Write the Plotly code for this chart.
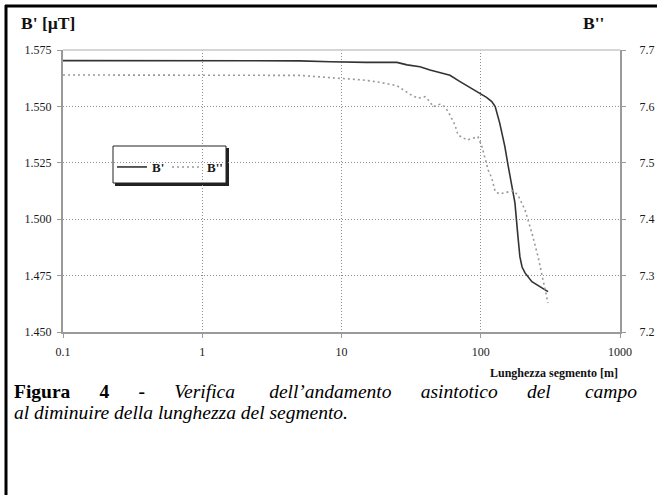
import plotly.graph_objects as go

# segment length [m]
len_b1 = [0.1, 0.2, 0.5, 1, 2, 5, 8.3, 10, 15, 20, 25, 29.6, 36.6, 43.2, 51, 55.4,
          60.1, 71, 86.5, 98.8, 110, 120, 127, 137, 149, 157, 162, 176, 185, 191,
          198, 208, 233, 266, 304]
b1 = [1.5703, 1.5703, 1.5703, 1.5703, 1.5703, 1.5702, 1.5698, 1.5696, 1.5695,
      1.5695, 1.5695, 1.5684, 1.5676, 1.5661, 1.5651, 1.5644, 1.5638, 1.5610,
      1.5580, 1.5560, 1.5540, 1.5521, 1.5499, 1.5425, 1.5322, 1.5240, 1.5189,
      1.5072, 1.4923, 1.4834, 1.4788, 1.4762, 1.4723, 1.4701, 1.4679]

len_b2 = [0.1, 0.2, 0.5, 1, 2, 5, 8.3, 10.2, 14.3, 18.9, 25, 31, 35.4, 39.8, 43.2,
          45.4, 51, 55.4, 60.1, 65.3, 68.7, 79.7, 87.9, 95.5, 102, 107, 113, 120,
          127, 137, 171, 185, 208, 233, 258, 280, 304]
b2 = [7.6557, 7.6557, 7.6557, 7.6557, 7.6557, 7.6550, 7.6510, 7.6498, 7.6468,
      7.6427, 7.6367, 7.6215, 7.6144, 7.6172, 7.6083, 7.5995, 7.6037, 7.5995,
      7.5848, 7.5670, 7.5493, 7.5404, 7.5434, 7.5463, 7.5286, 7.5080, 7.4872,
      7.4730, 7.4488, 7.4447, 7.4505, 7.4429, 7.4163, 7.3755, 7.3335, 7.2922,
      7.2514]

x_ticks = [0.1, 1, 10, 100, 1000]
x_labels = ["0.1", "1", "10", "100", "1000"]
y1_ticks = [1.450, 1.475, 1.500, 1.525, 1.550, 1.575]
y2_ticks = [7.2, 7.3, 7.4, 7.5, 7.6, 7.7]

caption_1 = ["<b>Figura</b>", "<b>4</b>", "<b>-</b>", "<i>Verifica</i>",
             "<i>dell’andamento</i>", "<i>asintotico</i>", "<i>del</i>", "<i>campo</i>"]
caption_2 = "<i>al diminuire della lunghezza del segmento.</i>"

_SERIF = "Times New Roman, Liberation Serif, serif"
_TEXT = "#1a1a1a"
_AXIS = "#9a9a9a"
_GRID = "#8f8f8f"

# plot area in pixels: left 63, right 620, top 50, bottom 332
W, H = 657, 495
L, R, T, B = 63, 620, 50, 332


def px(x):
    return (x - L) / (R - L)


def py(y):
    return (B - y) / (B - T)


fig = go.Figure()
fig.add_trace(go.Scatter(
    x=len_b1, y=b1, name="B'", mode="lines",
    line=dict(color="#333333", width=1.6),
))
fig.add_trace(go.Scatter(
    x=len_b2, y=b2, name="B''", mode="lines", yaxis="y2",
    line=dict(color="#9a9a9a", width=1.6, dash="2px,3px"),
))

_tick = dict(family=_SERIF, size=12, color=_TEXT)
fig.update_layout(
    width=W, height=H,
    margin=dict(l=L, r=W - R, t=T, b=H - B, autoexpand=False),
    paper_bgcolor="white",
    plot_bgcolor="white",
    font=dict(family=_SERIF, color=_TEXT, size=12),
    xaxis=dict(
        type="log", range=[-1, 3], tickvals=x_ticks, ticktext=x_labels,
        showgrid=True, gridcolor=_GRID, griddash="1px,2px", gridwidth=1,
        showline=True, linecolor=_AXIS, linewidth=2, automargin=False,
        ticks="outside", ticklen=4, tickcolor=_AXIS, ticklabelstandoff=4,
        zeroline=False, tickfont=_tick,
    ),
    yaxis=dict(
        range=[1.450, 1.575], tickvals=y1_ticks, tickformat=".3f",
        showgrid=True, gridcolor=_GRID, griddash="1px,2px", gridwidth=1,
        showline=True, linecolor=_AXIS, linewidth=2, automargin=False,
        ticks="outside", ticklen=4, tickcolor=_AXIS, ticklabelstandoff=3,
        zeroline=False, tickfont=_tick,
    ),
    yaxis2=dict(
        range=[7.2, 7.7], tickvals=y2_ticks, tickformat=".1f",
        overlaying="y", side="right", showgrid=False, automargin=False,
        showline=True, linecolor=_AXIS, linewidth=2,
        ticks="outside", ticklen=4, tickcolor=_AXIS, ticklabelstandoff=11,
        zeroline=False, tickfont=_tick,
    ),
    legend=dict(
        orientation="h", x=px(112), y=py(152), xanchor="left", yanchor="top",
        bgcolor="rgba(0,0,0,0)", borderwidth=0, entrywidth=10,
        font=dict(family=_SERIF, size=13, color=_TEXT, weight="bold"),
    ),
    showlegend=True,
)

# legend frame with drop shadow
fig.add_shape(type="rect", xref="paper", yref="paper", layer="below",
              x0=px(115), x1=px(229), y0=py(148), y1=py(186),
              line=dict(width=0), fillcolor="#222222")
fig.add_shape(type="rect", xref="paper", yref="paper", layer="below",
              x0=px(113), x1=px(226), y0=py(146), y1=py(183),
              line=dict(color="#222222", width=1), fillcolor="white")

fig.add_annotation(
    text="<b>B' [µT]</b>", xref="paper", yref="paper", x=px(19), y=py(23),
    xanchor="left", yanchor="middle", showarrow=False,
    font=dict(family=_SERIF, size=17.5, color="#111111"),
)
fig.add_annotation(
    text="<b>B''</b>", xref="paper", yref="paper", x=px(581), y=py(23),
    xanchor="left", yanchor="middle", showarrow=False,
    font=dict(family=_SERIF, size=17.5, color="#111111"),
)
fig.add_annotation(
    text="<b>Lunghezza segmento [m]</b>", xref="paper", yref="paper",
    x=px(620), y=py(373), xanchor="right", yanchor="middle", showarrow=False,
    font=dict(family=_SERIF, size=12, color="#111111"),
)
# justified first caption line: extra spaces between words
gaps = [5, 5, 5, 6, 5, 5, 6]
line_1 = caption_1[0]
for word, n in zip(caption_1[1:], gaps):
    line_1 += " " + "&nbsp;" * n + word
fig.add_annotation(
    text=line_1,
    xref="paper", yref="paper", x=px(12), y=py(391),
    xanchor="left", yanchor="middle", align="left", showarrow=False,
    font=dict(family=_SERIF, size=19.5, color="#000000"),
)
fig.add_annotation(
    text=caption_2,
    xref="paper", yref="paper", x=px(12), y=py(412),
    xanchor="left", yanchor="middle", align="left", showarrow=False,
    font=dict(family=_SERIF, size=19.5, color="#000000"),
)

# top edge of plot area and outer frame
fig.add_shape(type="line", xref="paper", yref="paper", x0=0, x1=1, y0=1, y1=1,
              line=dict(color="#c8c8c8", width=1.5))
fig.add_shape(type="line", xref="paper", yref="paper",
              x0=px(6), x1=px(6), y0=py(5), y1=py(500),
              line=dict(color="#000000", width=3))
fig.add_shape(type="line", xref="paper", yref="paper",
              x0=px(5), x1=px(660), y0=py(6), y1=py(6),
              line=dict(color="#000000", width=3))

fig.write_html("out.html", config={"displayModeBar": False},
               post_script="document.body.style.margin = '0px';")
